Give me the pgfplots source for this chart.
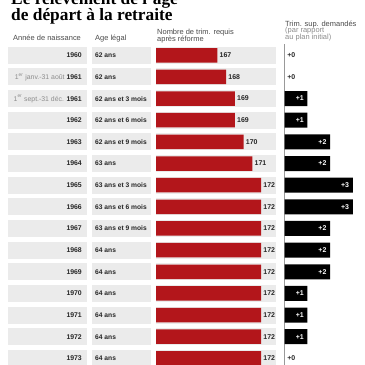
\documentclass[border=0pt]{standalone}
\usepackage{pgfplots}
\pgfplotsset{compat=1.18}
\usepackage{pgfplotstable}
\usepackage{fontspec}
\setmainfont{Liberation Sans}
\newfontfamily\titlefont{Liberation Serif}
\definecolor{redc}{HTML}{B3161B}
\definecolor{bgc}{HTML}{EBEBEB}
\definecolor{hdr}{HTML}{4A4A4A}
\definecolor{subc}{HTML}{8C8C8C}

\pgfplotstableread{
row trim
0 167
1 168
2 169
3 169
4 170
5 171
6 172
7 172
8 172
9 172
10 172
11 172
12 172
13 172
14 172
}\trimdata

\pgfplotstableread{
row sup
2 1
3 1
4 2
5 2
6 3
7 3
8 2
9 2
10 2
11 1
12 1
13 1
}\supdata

\pgfplotstableread{
row sup
0 0
1 0
14 0
}\zerodata

\begin{document}
\begin{tikzpicture}
\useasboundingbox (0bp,0bp) rectangle (365bp,-365bp);
\clip (0bp,0bp) rectangle (365bp,-365bp);
% title
\node[anchor=base west, inner sep=0, font=\titlefont\bfseries\fontsize{17.4}{17.4}\selectfont] at (11bp,-4.5bp) {Le relèvement de l’âge};
\node[anchor=base west, inner sep=0, font=\titlefont\bfseries\fontsize{17.4}{17.4}\selectfont] at (11bp,-20.9bp) {de départ à la retraite};
% headers
\begin{scope}[every node/.style={anchor=base west, inner sep=0, font=\fontsize{7.5}{7.5}\selectfont, text=hdr}]
\node at (13bp,-40.5bp) {Année de naissance};
\node at (95bp,-40.5bp) {Age légal};
\node at (157bp,-34.3bp) {Nombre de trim. requis};
\node at (157bp,-41bp) {après réforme};
\node at (285bp,-26.2bp) {Trim. sup. demandés};
\node[text=subc] at (285bp,-32.6bp) {(par rapport};
\node[text=subc] at (285bp,-39bp) {au plan initial)};
\end{scope}
% row backgrounds
\foreach \i in {0,...,14}{
  \pgfmathsetmacro{\yt}{-(55.3+21.65*\i)+8.5}
  \pgfmathsetmacro{\ybt}{-(55.3+21.65*\i)-8.5}
  \fill[bgc] (8bp,\yt bp) rectangle (87bp,\ybt bp);
  \fill[bgc] (92bp,\yt bp) rectangle (151bp,\ybt bp);
  \fill[bgc] (156bp,\yt bp) rectangle (276bp,\ybt bp);
}
% row labels
\foreach \i/\yr/\ag in {0/{1960}/{62 ans},
  1/{{\color{subc}\mdseries 1\textsuperscript{er} janv.-31 août} 1961}/{62 ans},
  2/{{\color{subc}\mdseries 1\textsuperscript{er} sept.-31 déc.} 1961}/{62 ans et 3 mois},
  3/{1962}/{62 ans et 6 mois},
  4/{1963}/{62 ans et 9 mois},
  5/{1964}/{63 ans},
  6/{1965}/{63 ans et 3 mois},
  7/{1966}/{63 ans et 6 mois},
  8/{1967}/{63 ans et 9 mois},
  9/{1968}/{64 ans},
  10/{1969}/{64 ans},
  11/{1970}/{64 ans},
  12/{1971}/{64 ans},
  13/{1972}/{64 ans},
  14/{1973}/{64 ans}}{
  \pgfmathsetmacro{\yb}{-(55.3+21.65*\i)-2.4}
  \node[anchor=base east, inner sep=0, font=\bfseries\fontsize{6.9}{7}\selectfont, text=black!85] at (82bp,\yb bp) {\yr};
  \node[anchor=base west, inner sep=0, font=\bfseries\fontsize{6.7}{7}\selectfont, text=black!85] at (95bp,\yb bp) {\ag};
}
% red bars
\begin{axis}[at={(217.25bp,-206.825bp)}, anchor=center, scale only axis,
  width=122.5bp, height=324.75bp, xmin=160, xmax=174, ymin=-0.5, ymax=14.5,
  y dir=reverse, hide axis, /pgf/number format/assume math mode=true]
\addplot[xbar, bar shift=0pt, bar width=14.5bp, fill=redc, draw=none,
  point meta=x, nodes near coords, nodes near coords align={anchor=west},
  every node near coord/.append style={font=\bfseries\fontsize{7}{7}\selectfont, text=black!85, inner sep=2.2bp}]
  table[x=trim, y=row]{\trimdata};
\end{axis}
% extra quarters
\begin{axis}[at={(324.425bp,-206.825bp)}, anchor=center, scale only axis,
  width=79.45bp, height=324.75bp, xmin=0, xmax=3.5, ymin=-0.5, ymax=14.5,
  y dir=reverse, hide axis, clip=false, /pgf/number format/assume math mode=true]
\draw[black!40, line width=0.6bp] (axis cs:0,-0.5) -- (axis cs:0,14.6);
\addplot[xbar, bar shift=0pt, bar width=15bp, fill=black, draw=none,
  point meta=x, nodes near coords={+\pgfmathprintnumber{\pgfplotspointmeta}},
  nodes near coords align={anchor=east},
  every node near coord/.append style={font=\bfseries\fontsize{7}{7}\selectfont, text=white, inner sep=3.5bp}]
  table[x=sup, y=row]{\supdata};
\addplot[only marks, mark=none, draw=none,
  point meta=x, nodes near coords={+\pgfmathprintnumber{\pgfplotspointmeta}},
  nodes near coords align={anchor=west},
  every node near coord/.append style={font=\bfseries\fontsize{7}{7}\selectfont, text=black!85, inner sep=2.5bp}]
  table[x=sup, y=row]{\zerodata};
\end{axis}
\end{tikzpicture}
\end{document}
